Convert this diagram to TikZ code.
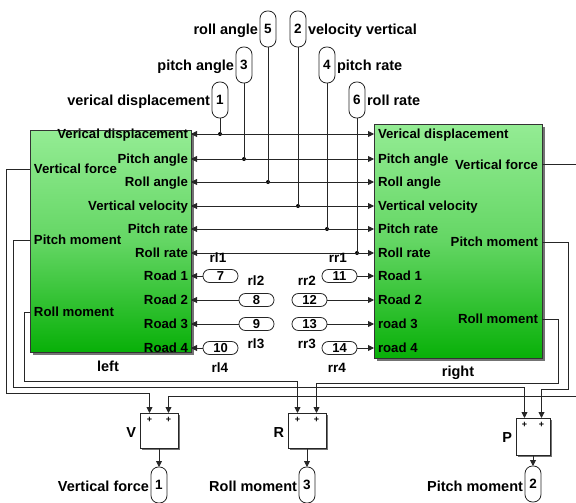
\documentclass[tikz,border=0pt]{standalone}
\usepackage{fontspec}
\setmainfont{Liberation Sans}
\usetikzlibrary{arrows.meta,calc}
\definecolor{gtop}{RGB}{148,236,148}
\definecolor{gmid}{RGB}{100,214,100}
\definecolor{gbot}{RGB}{8,176,8}
\begin{document}
\begin{tikzpicture}[x=1pt,y=-1pt,
  every node/.style={inner sep=0pt,outer sep=0pt},
  wire/.style={line width=0.9pt,draw=black!85},
  arr/.style={wire,-{Triangle[length=6pt,width=6pt]}},
  blk/.style={draw=black!80,line width=0.8pt,top color=gtop,bottom color=gbot,middle color=gmid},
  shadow/.style={fill=black!55},
  plbl/.style={font=\bfseries\fontsize{13.2}{13.2}\selectfont},
  pE/.style={plbl,anchor=base east,yshift=-4.6pt},
  pW/.style={plbl,anchor=base west,yshift=-4.6pt},
  lbl/.style={font=\bfseries\fontsize{14.5}{14.5}\selectfont},
  lE/.style={lbl,anchor=base east,yshift=-5.1pt},
  lW/.style={lbl,anchor=base west,yshift=-5.1pt},
  lC/.style={lbl,anchor=base,yshift=-5.1pt},
  tag/.style={font=\bfseries\fontsize{13.5}{13.5}\selectfont,anchor=base,yshift=-4.8pt},
  vpill/.style={draw=black!85,line width=0.8pt,rounded corners=7.5pt,minimum width=16pt,minimum height=36pt,fill=white,font=\bfseries\fontsize{13.5}{13.5}\selectfont},
  hpill/.style={draw=black!85,line width=0.8pt,rounded corners=6.4pt,minimum width=35pt,minimum height=13pt,fill=white,font=\bfseries\fontsize{13}{13}\selectfont},
  sumb/.style={draw=black!85,line width=0.8pt,fill=white},
  plus/.style={font=\bfseries\fontsize{9}{9}\selectfont},
  jdot/.style={circle,fill=black,minimum size=4pt}
]
\useasboundingbox (0,0) rectangle (576,503);

% ---------- main blocks ----------
\fill[shadow] (32.5,132.5) rectangle (193.5,354.5);
\node[blk,minimum width=161pt,minimum height=222pt] (left) at (110.5,241) {};
\fill[shadow] (376.5,126.5) rectangle (544.5,360.5);
\node[blk,minimum width=168pt,minimum height=234pt] (right) at (458,241) {};
\node[lC] (leftlbl) at (108,366) {left};
\node[lC] (rightlbl) at (458,371) {right};

% left block port labels
\node[pE] (lp1) at (188,134) {Verical displacement};
\node[pE] (lp2) at (188,159) {Pitch angle};
\node[pE] (lp3) at (188,182) {Roll angle};
\node[pE] (lp4) at (188,206) {Vertical velocity};
\node[pE] (lp5) at (188,229) {Pitch rate};
\node[pE] (lp6) at (188,253) {Roll rate};
\node[pE] (lp7) at (188,276) {Road 1};
\node[pE] (lp8) at (188,300) {Road 2};
\node[pE] (lp9) at (188,324) {Road 3};
\node[pE] (lp10) at (188,348) {Road 4};
\node[pW] (lo1) at (34,169) {Vertical force};
\node[pW] (lo2) at (34,240) {Pitch moment};
\node[pW] (lo3) at (34,312) {Roll moment};

% right block port labels
\node[pW] (rp1) at (378,134) {Verical displacement};
\node[pW] (rp2) at (378,159) {Pitch angle};
\node[pW] (rp3) at (378,182) {Roll angle};
\node[pW] (rp4) at (378,206) {Vertical velocity};
\node[pW] (rp5) at (378,229) {Pitch rate};
\node[pW] (rp6) at (378,253) {Roll rate};
\node[pW] (rp7) at (378,276) {Road 1};
\node[pW] (rp8) at (378,300) {Road 2};
\node[pW] (rp9) at (378,324) {road 3};
\node[pW] (rp10) at (378,348) {road 4};
\node[pE] (ro1) at (538,165) {Vertical force};
\node[pE] (ro2) at (538,242) {Pitch moment};
\node[pE] (ro3) at (538,319) {Roll moment};

% port coordinates
\foreach \i/\y in {1/134,2/159,3/182,4/206,5/229,6/253,7/276,8/300,9/324,10/348}{
  \coordinate (L\i) at (191,\y);
  \coordinate (R\i) at (374,\y);
}
\coordinate (LVF) at (30,169);
\coordinate (LPM) at (30,240);
\coordinate (LRM) at (30,312);
\coordinate (RVF) at (542,164);
\coordinate (RPM) at (542,242);
\coordinate (RRM) at (542,319);

% ---------- top inports ----------
\node[vpill] (in5) at (268,29) {5};
\node[vpill] (in2) at (298,29) {2};
\node[vpill] (in3) at (244,65) {3};
\node[vpill] (in4) at (327,65) {4};
\node[vpill] (in1) at (220,100) {1};
\node[vpill] (in6) at (357,100) {6};
\node[lE] (t5) at (258,29) {roll angle};
\node[lW] (t2) at (308,29) {velocity vertical};
\node[lE] (t3) at (234,65) {pitch angle};
\node[lW] (t4) at (337,65) {pitch rate};
\node[lE] (t1) at (210,100) {verical displacement};
\node[lW] (t6) at (367,100) {roll rate};

\foreach \n/\x/\i in {1/220/1,3/244/2,5/268/3,2/298/4,4/327/5,6/357/6}{
  \node[jdot] (d\n) at (\x,0 |- L\i) {};
}
\foreach \n/\i in {1/1,3/2,5/3,2/4,4/5,6/6}{
  \draw[wire] (in\n.south) -- (d\n.center);
  \draw[arr] (d\n.center) -- (L\i);
  \draw[arr] (d\n.center) -- (R\i);
}

% ---------- from / goto tags ----------
\node[hpill] (f7) at (220.5,276) {7};
\node[hpill] (f8) at (256.5,300) {8};
\node[hpill] (f9) at (256.5,324) {9};
\node[hpill] (f10) at (220.5,348) {10};
\node[hpill] (f11) at (339.5,276) {11};
\node[hpill] (f12) at (309.5,300) {12};
\node[hpill] (f13) at (309.5,324) {13};
\node[hpill] (f14) at (339.5,348) {14};
\draw[arr] (f7.west) -- (L7);
\draw[arr] (f8.west) -- (L8);
\draw[arr] (f9.west) -- (L9);
\draw[arr] (f10.west) -- (L10);
\draw[arr] (f11.east) -- (R7);
\draw[arr] (f12.east) -- (R8);
\draw[arr] (f13.east) -- (R9);
\draw[arr] (f14.east) -- (R10);

\node[tag] (rl1) at (218,258) {rl1};
\node[tag] (rr1) at (338,258) {rr1};
\node[tag] (rl2) at (256,281) {rl2};
\node[tag] (rr2) at (307,281) {rr2};
\node[tag] (rl3) at (256,344) {rl3};
\node[tag] (rr3) at (307,344) {rr3};
\node[tag] (rl4) at (220,368) {rl4};
\node[tag] (rr4) at (337,368) {rr4};

% ---------- sum blocks ----------
\fill[shadow] (141.5,414.5) rectangle (179.5,449.5);
\node[sumb,minimum width=38pt,minimum height=35pt] (V) at (159,430.5) {};
\fill[shadow] (289.5,414.5) rectangle (327.5,449.5);
\node[sumb,minimum width=38pt,minimum height=35pt] (R) at (307,430.5) {};
\fill[shadow] (517.5,419.5) rectangle (551.5,456.5);
\node[sumb,minimum width=34pt,minimum height=37pt] (P) at (533,436.5) {};
\foreach \b in {V,R,P}{
  \node[plus] (\b pa) at ($(\b.north west)!0.25!(\b.north east)+(0,7)$) {+};
  \node[plus] (\b pb) at ($(\b.north west)!0.75!(\b.north east)+(0,7)$) {+};
  \coordinate (\b1) at ($(\b.north west)!0.25!(\b.north east)$);
  \coordinate (\b2) at ($(\b.north west)!0.75!(\b.north east)$);
}
\node[lE] (Vl) at (136,432) {V};
\node[lE] (Rl) at (284,432) {R};
\node[lE] (Pl) at (512,437) {P};

% ---------- outports ----------
\node[vpill] (o1) at (159,485) {1};
\node[vpill] (o3) at (307,485) {3};
\node[vpill] (o2) at (533,484) {2};
\node[lE] (ol1) at (149,486) {Vertical force};
\node[lE] (ol3) at (297,486) {Roll moment};
\node[lE] (ol2) at (523,486) {Pitch moment};
\draw[arr] (V.south) -- (o1.north);
\draw[arr] (R.south) -- (o3.north);
\draw[arr] (P.south) -- (o2.north);

% ---------- feedback wiring ----------
\draw[arr] (LVF) -| (6,393) -| (V1);
\draw[arr] (LPM) -| (13,387) -| (P1);
\draw[arr] (LRM) -| (24,381) -| (R1);
\draw[arr] (RVF) -- (582,164) -- (582,396) -| (V2);
\draw[arr] (RPM) -| (568,389) -| (P2);
\draw[arr] (RRM) -| (558,383) -| (R2);
\end{tikzpicture}
\end{document}
